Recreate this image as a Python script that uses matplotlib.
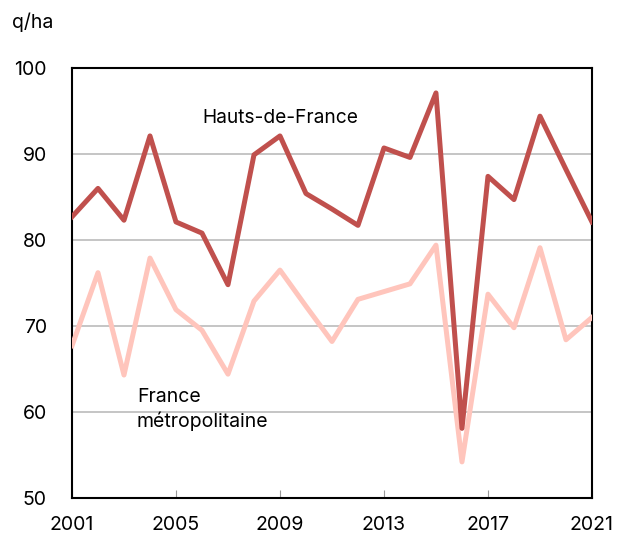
import matplotlib.pyplot as plt

# Rendement (q/ha), 2001-2021
annees = list(range(2001, 2022))
hauts_de_france = [82.7, 86.0, 82.3, 92.1, 82.1, 80.8, 74.8, 89.9, 92.1, 85.4,
                   83.6, 81.7, 90.7, 89.6, 97.1, 58.1, 87.4, 84.7, 94.4, 88.2, 82.1]
france_metro = [67.7, 76.2, 64.3, 77.9, 71.9, 69.5, 64.4, 72.9, 76.5, 72.3,
                68.2, 73.1, 74.0, 74.9, 79.4, 54.2, 73.7, 69.8, 79.1, 68.4, 71.0]
ticks_x = [2001, 2005, 2009, 2013, 2017, 2021]
ticks_y = [50, 60, 70, 80, 90, 100]

plt.rcParams['font.family'] = ['Inter', 'DejaVu Sans']

fig = plt.figure(figsize=(6.2, 5.37), dpi=100)
ax = fig.add_axes([0.1161, 0.0726, 0.8387, 0.8008])

ax.plot(annees, france_metro, color='#FFC5BC', linewidth=3.6, zorder=3)
ax.plot(annees, hauts_de_france, color='#C0504D', linewidth=3.6, zorder=4)

ax.set_xlim(2001, 2021)
ax.set_ylim(50, 100)
ax.set_xticks(ticks_x)
ax.set_yticks(ticks_y)
ax.tick_params(axis='x', direction='in', length=6, color='#999999', pad=13,
               labelsize=14)
ax.tick_params(axis='y', length=0, pad=18, labelsize=14)
ax.grid(axis='y', color='#BBBBBB', linewidth=1.2)
ax.set_axisbelow(True)
for s in ax.spines.values():
    s.set_linewidth(1.5)
    s.set_color('black')

ax.text(2006.0, 94.2, 'Hauts-de-France', fontsize=13.8, va='center')
ax.text(2003.5, 60.3, 'France\nmétropolitaine', fontsize=14, va='center',
        linespacing=1.3)
fig.text(12 / 620, 1 - 22 / 537, 'q/ha', fontsize=14, va='center')

fig.savefig('out.png', dpi=100)
